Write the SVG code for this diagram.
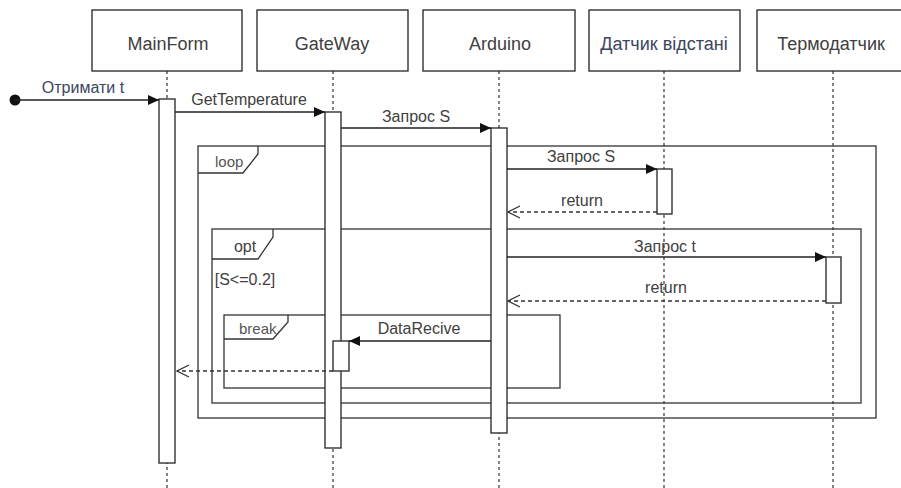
<svg xmlns="http://www.w3.org/2000/svg" width="901" height="488" viewBox="0 0 901 488">
<style>
.box{fill:#fff;stroke:#222;stroke-width:1.3}
.life{stroke:#333;stroke-width:1.2;stroke-dasharray:3,3;fill:none}
.act{fill:#fff;stroke:#222;stroke-width:1.3}
.frame{fill:none;stroke:#333;stroke-width:1.3}
.msg{stroke:#222;stroke-width:1.3;fill:none}
.ret{stroke:#333;stroke-width:1.3;fill:none;stroke-dasharray:4,3}
.hd{font-family:"Liberation Sans",Arial,sans-serif;font-size:18px;fill:#404040;text-anchor:middle}
.lb{font-family:"Liberation Sans",Arial,sans-serif;font-size:16px;fill:#404040;text-anchor:middle}
.fl{font-family:"Liberation Sans",Arial,sans-serif;font-size:15px;fill:#555}
</style>
<defs>
<marker id="fill" markerWidth="12" markerHeight="10" refX="11" refY="5" orient="auto" markerUnits="userSpaceOnUse">
<path d="M0,0 L11,5 L0,10 Z" fill="#111"/>
</marker>
<marker id="open" markerWidth="14" markerHeight="14" refX="13" refY="7" orient="auto" markerUnits="userSpaceOnUse">
<path d="M1,1 L13,7 L1,13" fill="none" stroke="#333" stroke-width="1.3"/>
</marker>
</defs>
<rect width="901" height="488" fill="#fff"/>

<g id="lifelines">
<line class="life" x1="167" y1="71" x2="167" y2="488"/>
<line class="life" x1="333" y1="71" x2="333" y2="488"/>
<line class="life" x1="499" y1="71" x2="499" y2="488"/>
<line class="life" x1="664" y1="71" x2="664" y2="488"/>
<line class="life" x1="833" y1="71" x2="833" y2="488"/>
</g>

<g id="MainForm">
<rect class="box" x="92" y="10" width="150" height="61"/>
<text class="hd" x="168" y="50">MainForm</text>
</g>
<g id="GateWay">
<rect class="box" x="257" y="10" width="151" height="61"/>
<text class="hd" x="332" y="50">GateWay</text>
</g>
<g id="Arduino">
<rect class="box" x="423" y="10" width="152" height="61"/>
<text class="hd" x="500" y="50">Arduino</text>
</g>
<g id="Datchyk">
<rect class="box" x="589" y="10" width="151" height="61"/>
<text class="hd" x="664" y="50" style="fill:#3b4560">Датчик відстані</text>
</g>
<g id="Termodatchyk">
<rect class="box" x="757" y="10" width="160" height="61"/>
<text class="hd" x="831" y="50">Термодатчик</text>
</g>

<g id="frames">
<g id="loop">
<rect class="frame" x="198" y="146" width="678" height="272"/>
<path class="frame" d="M198,173 L243,173 L258,154 L258,146"/>
<text class="fl" x="215" y="167">loop</text>
</g>
<g id="opt">
<rect class="frame" x="212" y="229" width="649" height="174"/>
<path class="frame" d="M212,259 L258,259 L273,237 L273,229"/>
<text class="lb" x="245" y="252">opt</text>
<text class="lb" x="245" y="285">[S&lt;=0.2]</text>
</g>
<g id="break">
<rect class="frame" x="224" y="315" width="336" height="73"/>
<path class="frame" d="M224,339 L273,339 L288,322 L288,315"/>
<text class="fl" x="239" y="334">break</text>
</g>
</g>

<g id="activations">
<rect class="act" x="159" y="99" width="16" height="364"/>
<rect class="act" x="325" y="112" width="16" height="336"/>
<rect class="act" x="491" y="128" width="16" height="305"/>
<rect class="act" x="657" y="169" width="15" height="45"/>
<rect class="act" x="826" y="257" width="15" height="46"/>
<rect class="act" x="333" y="341" width="16" height="30"/>
</g>

<g id="connectors">
<circle cx="15" cy="100" r="5.5" fill="#111"/>
<line class="msg" x1="15" y1="100" x2="159" y2="100" marker-end="url(#fill)"/>
<text class="lb" x="83" y="93" style="fill:#3b4560">Отримати t</text>

<line class="msg" x1="175" y1="112" x2="325" y2="112" marker-end="url(#fill)"/>
<text class="lb" x="249" y="105">GetTemperature</text>

<line class="msg" x1="341" y1="128" x2="491" y2="128" marker-end="url(#fill)"/>
<text class="lb" x="416" y="122">Запрос S</text>

<line class="msg" x1="507" y1="169" x2="657" y2="169" marker-end="url(#fill)"/>
<text class="lb" x="581" y="162">Запрос S</text>

<line class="ret" x1="657" y1="212" x2="508" y2="212" marker-end="url(#open)"/>
<text class="lb" x="582" y="206">return</text>

<line class="msg" x1="507" y1="257" x2="826" y2="257" marker-end="url(#fill)"/>
<text class="lb" x="665" y="252">Запрос t</text>

<line class="ret" x1="826" y1="301" x2="508" y2="301" marker-end="url(#open)"/>
<text class="lb" x="666" y="293">return</text>

<line class="msg" x1="491" y1="341" x2="349" y2="341" marker-end="url(#fill)"/>
<text class="lb" x="419" y="334">DataRecive</text>

<line class="ret" x1="333" y1="371" x2="177" y2="371" marker-end="url(#open)"/>
</g>
</svg>
